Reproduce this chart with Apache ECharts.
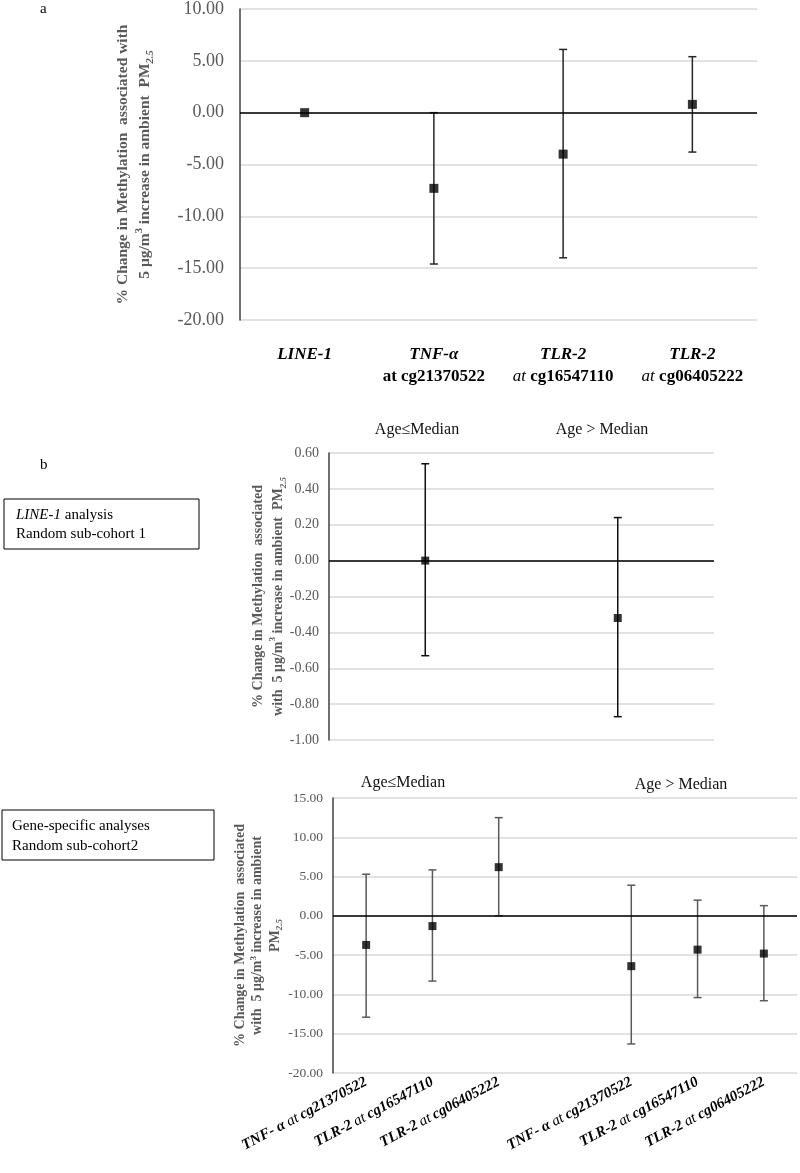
<!DOCTYPE html>
<html><head><meta charset="utf-8">
<script src="https://cdn.jsdelivr.net/npm/echarts@6/dist/echarts.min.js"></script>
<style>html,body{margin:0;padding:0;background:#fff}#c{width:800px;height:1173px}</style>
</head><body><div id="c"></div>
<script>
// Panel a
const genesA = ['LINE-1', 'TNF-α', 'TLR-2', 'TLR-2'];
const sitesA = ['', 'cg21370522', 'cg16547110', 'cg06405222'];
const estA = [0.0, -7.3, -4.0, 0.8];
const lowA = [0.0, -14.6, -14.0, -3.8];
const highA = [0.0, 0.0, 6.1, 5.4];
// Panel b (LINE-1, random sub-cohort 1)
const groupsB = ['Age≤Median', 'Age > Median'];
const estB = [0.0, -0.32];
const lowB = [-0.53, -0.87];
const highB = [0.54, 0.24];
// Panel b (gene-specific, random sub-cohort 2)
const genesC = ['TNF- α', 'TLR-2', 'TLR-2', '', 'TNF- α', 'TLR-2', 'TLR-2'];
const sitesC = ['cg21370522', 'cg16547110', 'cg06405222', '', 'cg21370522', 'cg16547110', 'cg06405222'];
const estC = [-3.7, -1.3, 6.2, null, -6.4, -4.3, -4.8];
const lowC = [-12.9, -8.3, 0.0, null, -16.3, -10.4, -10.8];
const highC = [5.3, 5.85, 12.5, null, 3.9, 2.0, 1.3];

const FF = 'Liberation Serif, Times New Roman, serif';
const chart = echarts.init(document.getElementById('c'), null, {renderer: 'canvas'});

function errSeries(idx, low, high, color, width, cap) {
  const data = low.map((l, i) => [i, l, high[i]]).filter(d => d[1] != null && d[2] != null && d[1] !== d[2]);
  return {
    type: 'custom', xAxisIndex: idx, yAxisIndex: idx, data: data, silent: true, z: 3,
    renderItem: function (params, api) {
      const x = api.value(0);
      const p1 = api.coord([x, api.value(1)]);
      const p2 = api.coord([x, api.value(2)]);
      const st = {stroke: color, lineWidth: width};
      return {type: 'group', children: [
        {type: 'line', shape: {x1: p1[0], y1: p1[1], x2: p2[0], y2: p2[1]}, style: st},
        {type: 'line', shape: {x1: p1[0] - cap, y1: p1[1], x2: p1[0] + cap, y2: p1[1]}, style: st},
        {type: 'line', shape: {x1: p2[0] - cap, y1: p2[1], x2: p2[0] + cap, y2: p2[1]}, style: st}
      ]};
    },
    markLine: {silent: true, symbol: ['none', 'none'], label: {show: false},
      lineStyle: {color: '#000', width: 1.5, type: 'solid'}, data: [{yAxis: 0}]}
  };
}
function ptSeries(idx, est, size) {
  return {type: 'scatter', xAxisIndex: idx, yAxisIndex: idx, symbol: 'rect', symbolSize: size,
    itemStyle: {color: '#000'}, data: est.map((v, i) => v == null ? null : [i, v]), z: 5, silent: true};
}
function yAx(idx, min, max, interval, fs, margin, name, nameGap, nfs, nlh) {
  return {
    type: 'value', gridIndex: idx, min: min, max: max, interval: interval,
    axisLine: {show: true, lineStyle: {color: '#404040', width: 1.5}},
    axisTick: {show: false},
    splitLine: {show: true, lineStyle: {color: '#d9d9d9', width: 1.5}},
    axisLabel: {fontFamily: FF, fontSize: fs, color: '#595959', margin: margin,
      formatter: v => v.toFixed(2)},
    name: name, nameLocation: 'middle', nameRotate: 90, nameGap: nameGap, nameMoveOverlap: false,
    nameTextStyle: {fontFamily: FF, fontSize: nfs, fontWeight: 'bold', color: '#595959', lineHeight: nlh,
      rich: {
        t: {fontFamily: FF, fontSize: nfs, fontWeight: 'bold', color: '#595959', lineHeight: nlh},
        sup: {fontFamily: FF, fontSize: nfs - 5, fontWeight: 'bold', color: '#595959', verticalAlign: 'top', lineHeight: nlh},
        sub: {fontFamily: FF, fontSize: nfs - 5, fontWeight: 'bold', fontStyle: 'italic', color: '#595959', verticalAlign: 'bottom', lineHeight: nlh}
      }}
  };
}

const nameA = '{t|% Change in Methylation  associated with}\n{t|5 μg/m}{sup|3}{t| increase in ambient  PM}{sub|2.5}';
const nameB = '{t|% Change in Methylation  associated}\n{t|with  5 μg/m}{sup|3}{t| increase in ambient  PM}{sub|2.5}';
const nameC = '{t|% Change in Methylation  associated}\n{t|with  5 μg/m}{sup|3}{t| increase in ambient}\n{t|PM}{sub|2.5}';

const option = {
  backgroundColor: '#fff',
  animation: false,
  grid: [
    {left: 240, top: 9, width: 517, height: 311},
    {left: 329, top: 453, width: 385, height: 287},
    {left: 333, top: 798, width: 464, height: 275}
  ],
  xAxis: [
    {type: 'category', gridIndex: 0, data: genesA, axisLine: {show: false}, axisTick: {show: false},
      axisLabel: {interval: 0, margin: 24, lineHeight: 22,
        formatter: function (v, i) {
          if (!sitesA[i]) return '{g|' + v + '}';
          if (i === 1) return '{g|' + v + '}\n{s|at ' + sitesA[i] + '}';
          return '{g|' + v + '}\n{a|at }{s|' + sitesA[i] + '}';
        },
        rich: {
          g: {fontFamily: FF, fontSize: 17, fontWeight: 'bold', fontStyle: 'italic', color: '#000', lineHeight: 22},
          a: {fontFamily: FF, fontSize: 17, fontStyle: 'italic', color: '#000', lineHeight: 22},
          s: {fontFamily: FF, fontSize: 17, fontWeight: 'bold', color: '#000', lineHeight: 22}
        }}},
    {type: 'category', gridIndex: 1, data: groupsB, axisLine: {show: false}, axisTick: {show: false},
      axisLabel: {show: false}},
    {type: 'category', gridIndex: 2, data: genesC, axisLine: {show: false}, axisTick: {show: false},
      axisLabel: {interval: 0, rotate: 28, margin: 8,
        formatter: function (v, i) {
          if (!v) return '';
          return '{g|' + v + '} {a|at} {s|' + sitesC[i] + '}';
        },
        rich: {
          g: {fontFamily: FF, fontSize: 15, fontWeight: 'bold', fontStyle: 'italic', color: '#000'},
          a: {fontFamily: FF, fontSize: 15, fontStyle: 'italic', color: '#000'},
          s: {fontFamily: FF, fontSize: 15, fontWeight: 'bold', fontStyle: 'italic', color: '#000'}
        }}}
  ],
  yAxis: [
    yAx(0, -20, 10, 5, 18, 16, nameA, 84, 15.5, 22),
    yAx(1, -1, 0.6, 0.2, 14, 10, nameB, 41, 14, 20),
    yAx(2, -20, 15, 5, 13.5, 10, nameC, 49, 14, 17.5)
  ],
  series: [
    errSeries(0, lowA, highA, '#262626', 1.5, 4),
    ptSeries(0, estA, 9),
    errSeries(1, lowB, highB, '#111', 1.5, 4),
    ptSeries(1, estB, 8),
    errSeries(2, lowC, highC, '#595959', 1.5, 4),
    ptSeries(2, estC, 8)
  ],
  graphic: [
    {type: 'text', left: 40, top: 2, style: {text: 'a', fontFamily: FF, fontSize: 15, fill: '#000'}},
    {type: 'text', left: 40, top: 458, style: {text: 'b', fontFamily: FF, fontSize: 15, fill: '#000'}},
    {type: 'rect', shape: {x: 4, y: 499, width: 195, height: 50}, style: {fill: 'none', stroke: '#000', lineWidth: 1}},
    {type: 'text', x: 16, y: 506, style: {text: '{i|LINE-1} analysis\nRandom sub-cohort 1', fontFamily: FF, fontSize: 15, lineHeight: 19, fill: '#000',
      rich: {i: {fontFamily: FF, fontSize: 15, fontStyle: 'italic', fill: '#000', lineHeight: 19}}}},
    {type: 'rect', shape: {x: 2, y: 810, width: 212, height: 50}, style: {fill: 'none', stroke: '#000', lineWidth: 1}},
    {type: 'text', x: 12, y: 816, style: {text: 'Gene-specific analyses\nRandom sub-cohort2', fontFamily: FF, fontSize: 15, lineHeight: 20, fill: '#000'}},
    {type: 'text', x: 417, y: 430, style: {text: groupsB[0], fontFamily: FF, fontSize: 16, fill: '#111', align: 'center', verticalAlign: 'middle'}},
    {type: 'text', x: 602, y: 430, style: {text: groupsB[1], fontFamily: FF, fontSize: 16, fill: '#111', align: 'center', verticalAlign: 'middle'}},
    {type: 'text', x: 403, y: 783, style: {text: groupsB[0], fontFamily: FF, fontSize: 16, fill: '#111', align: 'center', verticalAlign: 'middle'}},
    {type: 'text', x: 681, y: 785, style: {text: groupsB[1], fontFamily: FF, fontSize: 16, fill: '#111', align: 'center', verticalAlign: 'middle'}}
  ]
};
chart.setOption(option);
</script>
</body></html>
